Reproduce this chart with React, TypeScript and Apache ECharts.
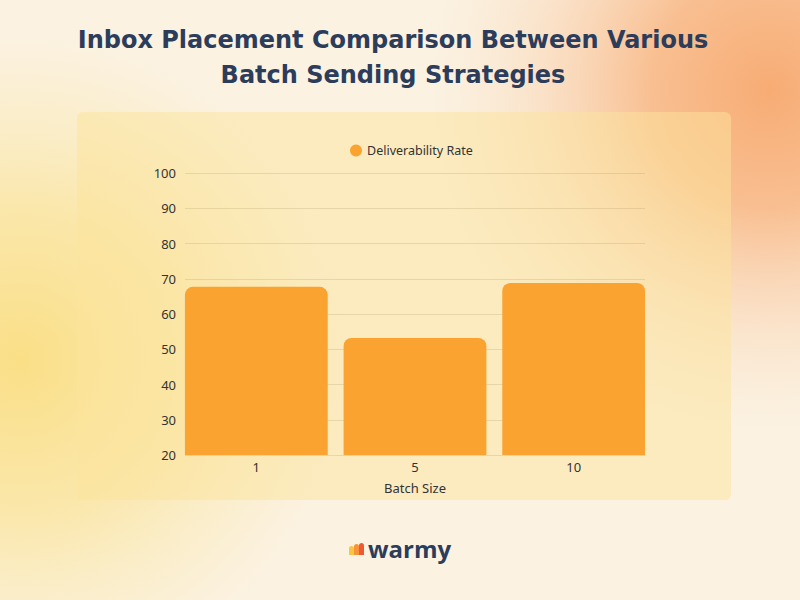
import * as echarts from "echarts";
import React, { useEffect, useRef } from "react";

// values
const batchSizes = ["1", "5", "10"];
const deliverabilityRate = [67.7, 53.2, 68.8];
const seriesName = "Deliverability Rate";
const yMin = 20;
const yMax = 100;
const yStep = 10;
const titleLines = ["Inbox Placement Comparison Between Various", "Batch Sending Strategies"];

const NAVY = "#2c3d5b";
const BAR = "#fba331";
const LABEL_FONT = "'Noto Sans', 'Open Sans', sans-serif";

const glow = (cx: number, cy: number, r: number, stops: [number, string][], z: number) => ({
  type: "rect",
  z,
  silent: true,
  shape: { x: cx - r, y: cy - r, width: r * 2, height: r * 2 },
  style: {
    fill: new echarts.graphic.RadialGradient(
      0.5,
      0.5,
      0.5,
      stops.map(([offset, color]) => ({ offset, color }))
    ),
  },
});

const App: React.FC = () => {
  const chartRef = useRef<HTMLDivElement | null>(null);

  useEffect(() => {
    if (!chartRef.current) return;
    const chart = echarts.init(chartRef.current, null, { renderer: "svg" });

    const option: echarts.EChartsOption = {
      animation: false,
      backgroundColor: "#fbf2e2",
      legend: {
        data: [seriesName],
        left: 345,
        top: 139,
        icon: "circle",
        itemWidth: 12,
        itemHeight: 12,
        textStyle: { fontSize: 12.5, color: "#333", fontFamily: LABEL_FONT },
      },
      grid: [
        // grid holding the y axis and its lines
        { left: 185, width: 460, top: 173, height: 282 },
        // grid holding the bars, a little wider so bars reach the line ends
        { left: 177, width: 476, top: 173, height: 282 },
      ],
      xAxis: [
        { gridIndex: 0, type: "category", data: batchSizes, show: false },
        {
          gridIndex: 1,
          type: "category",
          data: batchSizes,
          axisLine: { show: false },
          axisTick: { show: false },
          axisLabel: { margin: 5, fontSize: 13, color: "#333", fontFamily: LABEL_FONT },
          name: "Batch Size",
          nameLocation: "middle",
          nameGap: 26,
          nameTextStyle: { fontSize: 13, color: "#333", fontFamily: LABEL_FONT },
        },
      ],
      yAxis: [
        {
          gridIndex: 0,
          type: "value",
          min: yMin,
          max: yMax,
          interval: yStep,
          axisLine: { show: false },
          axisTick: { show: false },
          axisLabel: { margin: 9, fontSize: 13, color: "#333", fontFamily: LABEL_FONT },
          splitLine: { lineStyle: { color: "rgba(160,140,90,0.22)", width: 1 } },
        },
        { gridIndex: 1, type: "value", min: yMin, max: yMax, interval: yStep, show: false },
      ],
      series: [
        {
          name: seriesName,
          type: "bar",
          xAxisIndex: 1,
          yAxisIndex: 1,
          data: deliverabilityRate,
          barCategoryGap: "10%",
          itemStyle: { color: BAR, borderRadius: [8, 8, 0, 0] },
        },
      ],
      graphic: [
        // soft background glows
        glow(770, 90, 340, [
          [0, "rgba(247,168,110,0.95)"],
          [0.35, "rgba(248,178,125,0.8)"],
          [0.7, "rgba(249,200,160,0.35)"],
          [1, "rgba(250,215,180,0)"],
        ], -30),
        glow(20, 360, 330, [
          [0, "rgba(250,222,130,0.95)"],
          [0.45, "rgba(250,226,145,0.7)"],
          [1, "rgba(251,232,170,0)"],
        ], -29),
        {
          type: "rect",
          z: -20,
          silent: true,
          shape: { x: 77, y: 112, width: 654, height: 388, r: 6 },
          style: { fill: "rgba(252,228,155,0.5)" },
        },
        ...titleLines.map((line, i) => ({
          type: "text",
          x: 393,
          y: 40 + i * 35,
          style: {
            text: line,
            align: "center",
            verticalAlign: "middle",
            fontSize: 24,
            fontWeight: "bold",
            fontFamily: "'DejaVu Sans', sans-serif",
            fill: NAVY,
          },
        })),
        // warmy logo
        {
          type: "group",
          children: [
            { type: "rect", shape: { x: 349, y: 546, width: 5, height: 9, r: [2.5, 2.5, 0, 0] }, style: { fill: "#f9c544" } },
            { type: "rect", shape: { x: 354, y: 544, width: 5, height: 11, r: [2.5, 2.5, 0, 0] }, style: { fill: "#f7933a" } },
            { type: "rect", shape: { x: 359, y: 543, width: 5, height: 12, r: [2.5, 2.5, 0, 0] }, style: { fill: "#ef5a32" } },
            {
              type: "text",
              x: 368,
              y: 548,
              style: {
                text: "warmy",
                verticalAlign: "middle",
                fontSize: 24,
                fontWeight: "bold",
                fontFamily: "'Open Sans', sans-serif",
                fill: NAVY,
              },
            },
          ],
        },
      ],
    };

    chart.setOption(option);
    return () => {
      chart.dispose();
    };
  }, []);

  return (
    <div
      ref={chartRef}
      style={{ position: "absolute", left: 0, top: 0, width: "800px", height: "600px" }}
    />
  );
};

export default App;
